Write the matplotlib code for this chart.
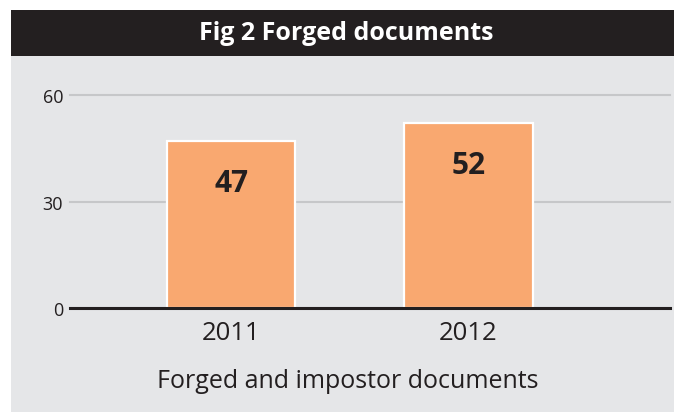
import matplotlib
matplotlib.use("Agg")
import matplotlib.pyplot as plt
from matplotlib.patches import Rectangle

categories = ["2011", "2012"]
values = [47, 52]
yticks = [0, 30, 60]
title = "Fig 2 Forged documents"
xlabel = "Forged and impostor documents"

W, H = 674, 414
plt.rcParams['font.family'] = ['Open Sans', 'DejaVu Sans']
fig = plt.figure(figsize=(W / 100, H / 100), dpi=100, facecolor="white")

def fx(px):
    return px / W

def fy(py):
    return 1 - py / H

# background panel and title bar
fig.patches.append(Rectangle((fx(11), fy(413)), fx(674) - fx(11), fy(57) - fy(413),
                             transform=fig.transFigure, facecolor="#e5e6e8",
                             edgecolor="none", zorder=-10))
fig.patches.append(Rectangle((fx(11), fy(57)), fx(674) - fx(11), fy(11) - fy(57),
                             transform=fig.transFigure, facecolor="#231f20",
                             edgecolor="none", zorder=-10))
fig.text(fx(346), fy(34), title, color="white", fontsize=18, fontweight="bold",
         ha="center", va="center")

ax = fig.add_axes([fx(70), fy(309), fx(670) - fx(70), fy(96) - fy(309)])
ax.set_facecolor("none")
ax.set_zorder(1)
x = list(range(len(categories)))
bars = ax.bar(x, values, width=0.54, color="#f9a870", edgecolor="white",
              linewidth=1.6, zorder=3)
ax.set_xlim(-0.681, 1.85)
ax.set_ylim(0, 60)
ax.set_yticks(yticks)
ax.set_yticklabels([str(t) for t in yticks], fontsize=13, color="#231f20")
ax.yaxis.grid(True, color="#c6c7c9", linewidth=1.5, zorder=0)
ax.set_axisbelow(True)
for s in ["top", "right", "left"]:
    ax.spines[s].set_visible(False)
ax.spines["bottom"].set_color("#231f20")
ax.spines["bottom"].set_linewidth(2.2)
ax.spines["bottom"].set_zorder(4)
ax.tick_params(axis="y", length=0, pad=5)
ax.tick_params(axis="x", length=0, pad=9)
ax.set_xticks(x)
ax.set_xticklabels(categories, fontsize=18.5, color="#231f20")
for g in ax.get_ygridlines():
    g.set_clip_on(False)

for xi, v in zip(x, values):
    ax.annotate(str(v), (xi, v), xytext=(0, -30), textcoords="offset points",
                ha="center", va="center", fontsize=21.5, fontweight="bold",
                color="#231f20", zorder=5)

fig.text(fx(348), fy(382), xlabel, fontsize=18, color="#231f20",
         ha="center", va="center")

fig.savefig("out.png", dpi=100, facecolor="white")
